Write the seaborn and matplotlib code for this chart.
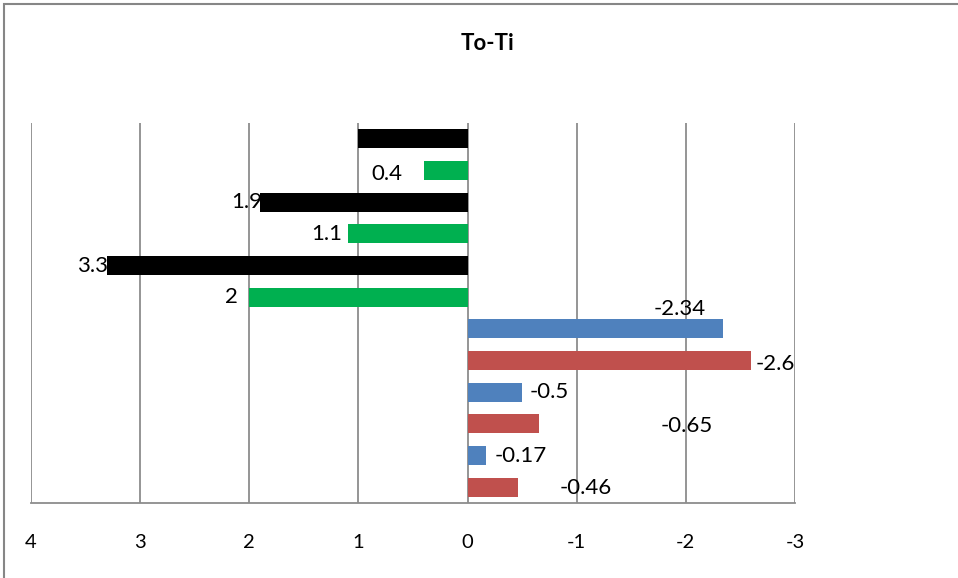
import matplotlib
matplotlib.use("Agg")
import matplotlib.pyplot as plt
import seaborn as sns
import pandas as pd
from matplotlib.patches import Rectangle

# Data (top to bottom)
categories = ["r1", "r2", "r3", "r4", "r5", "r6", "r7", "r8", "r9", "r10", "r11", "r12"]
values = [1.0, 0.4, 1.9, 1.1, 3.3, 2.0, -2.34, -2.6, -0.5, -0.65, -0.17, -0.46]
labels = [None, "0.4", "1.9", "1.1", "3.3", "2", "-2.34", "-2.6", "-0.5", "-0.65", "-0.17", "-0.46"]
bar_colors = ["#000000", "#00B050", "#000000", "#00B050", "#000000", "#00B050",
              "#4F81BD", "#C0504D", "#4F81BD", "#C0504D", "#4F81BD", "#C0504D"]
x_ticks = [4, 3, 2, 1, 0, -1, -2, -3]
title = "To-Ti"

# label offsets (pixels) relative to bar end, screen direction
label_dx = [0, -37, -13, -21, -15, -18, -43, 24, 27, 148, 35, 68]
label_dy = [0, -3, 0, 0, 0, 0, 20, -4, 0, -2, 0, -1]

sns.set_theme(style="white")
plt.rcParams["font.family"] = ["Lato", "DejaVu Sans"]

fig = plt.figure(figsize=(9.58, 5.78), dpi=100)
ax = fig.add_axes([31/958, 1-503/578, (795-31)/958, (503-123)/578])

df = pd.DataFrame({"cat": categories, "val": values})
sns.barplot(data=df, x="val", y="cat", hue="cat", palette=bar_colors,
            orient="h", width=0.6, legend=False, ax=ax, saturation=1, linewidth=0)

ax.set_xlim(4, -3)
ax.set_ylim(11.5, -0.5)
ax.set_xticks(x_ticks)
ax.set_xticklabels([str(t) for t in x_ticks], fontsize=14.5)
ax.set_yticks([])
ax.set_xlabel("")
ax.set_ylabel("")

grid_c = "#8C8C8C"
ax.grid(axis="x", color=grid_c, linewidth=1.3)
ax.set_axisbelow(True)
for s in ["top", "left", "right"]:
    ax.spines[s].set_visible(False)
ax.spines["bottom"].set_color(grid_c)
ax.spines["bottom"].set_linewidth(1.3)
ax.tick_params(axis="x", length=3, color=grid_c, width=1.3, pad=19, labelcolor="black")

for i, (v, lab) in enumerate(zip(values, labels)):
    if lab is None:
        continue
    ax.annotate(lab, xy=(v, i), xytext=(label_dx[i], label_dy[i]),
                textcoords="offset pixels", ha="center", va="center",
                fontsize=16, color="black")

fig.text(487/958, 1-43/578, title, ha="center", va="center",
         fontsize=16, fontweight="bold", color="black")

fig.patches.append(Rectangle((4/958, -0.1), 1.2, 1.1 - 4/578, transform=fig.transFigure,
                             fill=False, edgecolor="#868686", linewidth=1.5, clip_on=False))

fig.savefig("out.png", dpi=100, facecolor="white")
